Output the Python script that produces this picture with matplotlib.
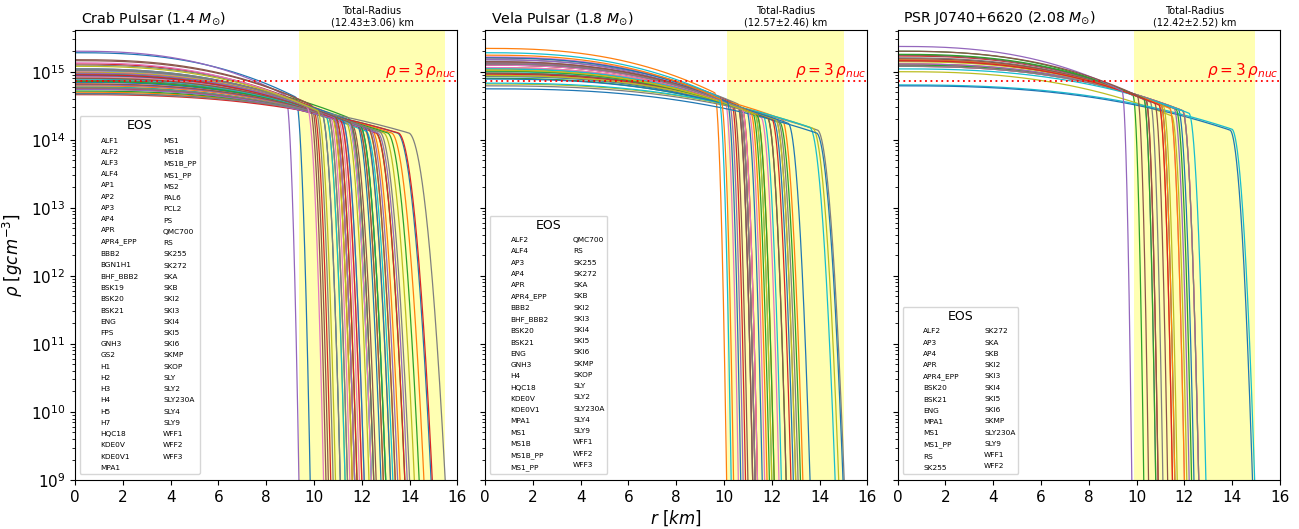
import numpy as np
import matplotlib
matplotlib.use("Agg")
import matplotlib.pyplot as plt
from matplotlib.transforms import blended_transform_factory

# ---------------- data ----------------
panel_titles = [r"Crab Pulsar (1.4 $M_{\odot}$)",
                r"Vela Pulsar (1.8 $M_{\odot}$)",
                r"PSR J0740+6620 (2.08 $M_{\odot}$)"]
panel_masses = [1.4, 1.8, 2.08]
radius_mean = [12.43, 12.57, 12.42]
radius_err = [3.06, 2.46, 2.52]

crab_eos = ["ALF1", "ALF2", "ALF3", "ALF4", "AP1", "AP2", "AP3", "AP4", "APR",
            "APR4_EPP", "BBB2", "BGN1H1", "BHF_BBB2", "BSK19", "BSK20", "BSK21",
            "ENG", "FPS", "GNH3", "GS2", "H1", "H2", "H3", "H4", "H5", "H7",
            "HQC18", "KDE0V", "KDE0V1", "MPA1", "MS1", "MS1B", "MS1B_PP",
            "MS1_PP", "MS2", "PAL6", "PCL2", "PS", "QMC700", "RS", "SK255",
            "SK272", "SKA", "SKB", "SKI2", "SKI3", "SKI4", "SKI5", "SKI6",
            "SKMP", "SKOP", "SLY", "SLY2", "SLY230A", "SLY4", "SLY9", "WFF1",
            "WFF2", "WFF3"]
# central density [1e15 g/cm^3]
crab_rho_c = [1.9, 0.65, 0.95, 1.05, 2.0, 1.45, 0.85, 1.05, 1.0,
              1.02, 1.1, 0.75, 0.95, 1.3, 0.95, 0.75,
              0.9, 1.25, 0.55, 0.6, 0.8, 0.62, 0.58, 0.56, 0.7, 0.72,
              1.0, 1.05, 0.98, 0.8, 0.48, 0.5, 0.52,
              0.46, 0.55, 1.5, 0.9, 0.47, 0.82, 0.72, 0.7,
              0.66, 0.72, 0.88, 0.64, 0.66, 0.82, 0.58, 0.8,
              0.78, 0.88, 0.95, 0.93, 0.9, 0.95, 0.8, 1.35,
              1.1, 1.2]
# stellar radius [km]
crab_radius = [9.84, 13.2, 12.4, 11.6, 9.37, 10.6, 12.1, 11.4, 11.3,
               11.3, 11.1, 12.9, 11.7, 10.7, 11.7, 12.6,
               12.0, 10.8, 14.2, 13.3, 12.8, 13.6, 13.8, 13.8, 13.0, 12.9,
               11.5, 11.4, 11.6, 12.4, 14.9, 14.6, 14.4,
               14.95, 13.9, 10.5, 11.9, 15.49, 12.3, 13.0, 13.2,
               13.4, 13.0, 12.0, 13.5, 13.4, 12.4, 14.0, 12.5,
               12.5, 12.1, 11.7, 11.8, 11.8, 11.7, 12.5, 10.4,
               11.1, 10.9]

vela_eos = ["ALF2", "ALF4", "AP3", "AP4", "APR", "APR4_EPP", "BBB2", "BHF_BBB2",
            "BSK20", "BSK21", "ENG", "GNH3", "H4", "HQC18", "KDE0V", "KDE0V1",
            "MPA1", "MS1", "MS1B", "MS1B_PP", "MS1_PP", "QMC700", "RS", "SK255",
            "SK272", "SKA", "SKB", "SKI2", "SKI3", "SKI4", "SKI5", "SKI6",
            "SKMP", "SKOP", "SLY", "SLY2", "SLY230A", "SLY4", "SLY9", "WFF1",
            "WFF2", "WFF3"]
vela_rho_c = [0.85, 2.2, 1.1, 1.6, 1.35, 1.4, 1.65, 1.5,
              1.3, 1.0, 1.25, 0.9, 0.8, 1.3, 1.5, 1.4,
              0.95, 0.62, 0.66, 0.68, 0.56, 1.15, 0.95, 0.92,
              0.88, 0.95, 1.15, 0.86, 0.88, 1.1, 0.78, 1.05,
              1.02, 1.25, 1.3, 1.28, 1.25, 1.3, 1.05, 1.9,
              1.6, 1.75]
vela_radius = [12.9, 10.11, 11.9, 10.9, 11.2, 11.0, 10.6, 11.2,
               11.4, 12.4, 11.6, 13.3, 13.2, 11.3, 10.8, 11.2,
               12.3, 15.03, 14.8, 14.65, 14.98, 11.8, 12.6, 12.8,
               13.0, 12.6, 11.7, 13.1, 13.0, 12.0, 13.6, 12.1,
               12.1, 11.4, 11.3, 11.3, 11.4, 11.3, 12.0, 10.3,
               10.7, 10.4]

psr_eos = ["ALF2", "AP3", "AP4", "APR", "APR4_EPP", "BSK20", "BSK21", "ENG",
           "MPA1", "MS1", "MS1_PP", "RS", "SK255", "SK272", "SKA", "SKB",
           "SKI2", "SKI3", "SKI4", "SKI5", "SKI6", "SKMP", "SLY230A", "SLY9",
           "WFF1", "WFF2"]
psr_rho_c = [1.25, 1.5, 2.0, 1.7, 1.75, 1.75, 1.3, 1.6,
             1.0, 0.64, 0.62, 1.3, 1.25, 1.2, 1.3, 1.55,
             1.2, 1.2, 1.4, 1.1, 1.45, 1.45, 1.8, 1.45,
             2.35, 2.0]
psr_radius = [12.4, 11.5, 10.3, 10.9, 10.8, 10.9, 12.0, 11.1,
              12.1, 14.94, 14.85, 12.0, 12.3, 12.6, 12.2, 11.3,
              12.6, 12.6, 11.7, 12.9, 11.6, 11.6, 10.8, 11.5,
              9.8, 10.5]

panel_eos = [crab_eos, vela_eos, psr_eos]
panel_rho_c = [crab_rho_c, vela_rho_c, psr_rho_c]
panel_radius = [crab_radius, vela_radius, psr_radius]

rho_nuc = 2.4e14


def density_profile(rho_c, R, M):
    """Smooth core + crust profile through the read central density and radius."""
    Lc = np.log10(rho_c * 1e15)
    d = 0.0089 * R ** 2 / M          # crust thickness
    rk = R - d
    Lk = max(Lc - 0.65, 14.1)
    n = 2.5
    slope = n * (Lc - Lk) / rk
    c = ((Lk - 9.0) - slope * d) / d ** 2
    r1 = np.linspace(0, rk, 200)
    L1 = Lc - (Lc - Lk) * (r1 / rk) ** n
    u = np.linspace(0, d * 1.03, 300)
    L2 = Lk - slope * u - c * u ** 2
    r = np.concatenate([r1, rk + u[1:]])
    L = np.concatenate([L1, L2[1:]])
    return r, 10 ** L


# ---------------- figure ----------------
fig = plt.figure(figsize=(12.99, 5.29), dpi=100)
W, H = 1299, 529
lefts = [75, 485, 897.6]
aw = 382.4
top, bottom = 30, 480
legend_anchor = [(0.013, 0.014), (0.013, 0.014), (0.013, 0.014)]

axes = []
for i in range(3):
    ax = fig.add_axes([lefts[i] / W, 1 - bottom / H, aw / W, (bottom - top) / H])
    axes.append(ax)
    lines = []
    for name, rc, R in zip(panel_eos[i], panel_rho_c[i], panel_radius[i]):
        r, rho = density_profile(rc, R, panel_masses[i])
        ln, = ax.plot(r, rho, lw=0.9, label=name)
        lines.append(ln)
    lo = radius_mean[i] - radius_err[i]
    hi = radius_mean[i] + radius_err[i]
    ax.axvspan(lo, hi, color="yellow", alpha=0.3, lw=0, zorder=0)
    ax.axhline(3 * rho_nuc, color="red", ls=(0, (1, 2)), lw=1.3)
    ax.text(15.95, 3 * rho_nuc * 1.04, r"$\rho = 3\,\rho_{nuc}$", color="red",
            fontsize=11, ha="right", va="bottom")
    ax.set_yscale("log")
    ax.set_xlim(0, 16)
    ax.set_ylim(1e9, 4.1e15)
    ax.set_xticks(np.arange(0, 17, 2))
    ax.tick_params(labelsize=11)
    if i > 0:
        ax.tick_params(labelleft=False)
    ax.text(0.015, 1.006, panel_titles[i], transform=ax.transAxes,
            fontsize=10.2, ha="left", va="bottom")
    tr = blended_transform_factory(ax.transData, ax.transAxes)
    ax.text(radius_mean[i], 1.006,
            "Total-Radius\n(%.2f\u00b1%.2f) km" % (radius_mean[i], radius_err[i]),
            transform=tr, fontsize=7, ha="center", va="bottom", linespacing=1.1)
    leg = ax.legend(handles=lines, title="EOS", ncol=2, fontsize=5.3,
                    title_fontsize=9, loc="lower left",
                    bbox_to_anchor=legend_anchor[i], borderaxespad=0,
                    handlelength=1.6, handletextpad=0.8, columnspacing=0.9,
                    labelspacing=0.69)
    for h in leg.legend_handles:
        h.set_visible(False)

axes[0].set_ylabel(r"$\rho\ [gcm^{-3}]$", fontsize=12)
axes[0].yaxis.set_label_coords(-0.13, 0.5)
fig.text((lefts[1] + aw / 2) / W, 1 - 518 / H, r"$r\ [km]$", fontsize=12,
         ha="center", va="center")

fig.savefig("out.png", dpi=100)
